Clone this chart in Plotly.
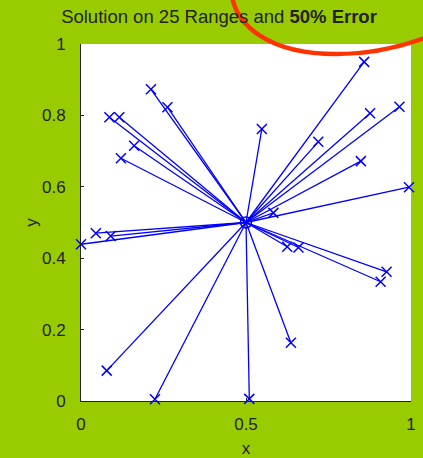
import plotly.graph_objects as go

center_x = 0.5
center_y = 0.5
est_x = [0.858, 0.876, 0.965, 0.719, 0.548, 0.848, 0.994, 0.583,
         0.212, 0.262, 0.086, 0.116, 0.161, 0.121,
         0.045, 0.090, 0.000, 0.078, 0.224,
         0.625, 0.659, 0.926, 0.908, 0.636, 0.510]
est_y = [0.950, 0.806, 0.824, 0.726, 0.762, 0.672, 0.599, 0.527,
         0.873, 0.823, 0.795, 0.795, 0.715, 0.680,
         0.470, 0.462, 0.439, 0.085, 0.005,
         0.432, 0.430, 0.362, 0.334, 0.163, 0.006]
x_ticks = [0, 0.5, 1]
y_ticks = [0, 0.2, 0.4, 0.6, 0.8, 1]

BLUE = "#0000FF"
GREEN = "#99CC00"

lx, ly = [], []
for xv, yv in zip(est_x, est_y):
    lx += [center_x, xv, None]
    ly += [center_y, yv, None]

fig = go.Figure()
fig.add_trace(go.Scatter(x=lx, y=ly, mode="lines",
                         line=dict(color=BLUE, width=1.3),
                         hoverinfo="skip", showlegend=False))
fig.add_trace(go.Scatter(x=est_x, y=est_y, mode="markers",
                         marker=dict(symbol="x-thin", size=10,
                                     line=dict(color=BLUE, width=1.5)),
                         cliponaxis=False, showlegend=False))
fig.add_trace(go.Scatter(x=[center_x], y=[center_y], mode="markers",
                         marker=dict(symbol="circle-open", size=11, color=BLUE,
                                     line=dict(color=BLUE, width=1.5)),
                         cliponaxis=False, showlegend=False))

W, H = 423, 458
L, R, T, B = 81, 12, 44, 57
pw, ph = W - L - R, H - T - B

def px(x):
    return (x - L) / pw

def py(y):
    return (H - B - y) / ph

pts = [(231, -15), (231, 28), (273, 54), (336, 54), (370, 54), (405, 46), (435, 34)]
p = [(px(a), py(b)) for a, b in pts]
path = (f"M {p[0][0]},{p[0][1]} C {p[1][0]},{p[1][1]} {p[2][0]},{p[2][1]} {p[3][0]},{p[3][1]} "
        f"C {p[4][0]},{p[4][1]} {p[5][0]},{p[5][1]} {p[6][0]},{p[6][1]}")
fig.add_shape(type="path", path=path, xref="paper", yref="paper",
              line=dict(color="#FF3300", width=4.5), layer="above")

FONT = "Liberation Sans, Arial"
axis_common = dict(showgrid=False, zeroline=False, showline=True,
                   linecolor="#222222", linewidth=1, ticks="inside",
                   ticklen=3, tickcolor="#222222", mirror=False,
                   tickfont=dict(family=FONT, size=17, color="#222222"))

fig.update_xaxes(range=[0, 1], tickvals=x_ticks, ticktext=["0", "0.5", "1"],
                 ticklabelstandoff=8,
                 title=dict(text="x", font=dict(family=FONT, size=17, color="#222222"), standoff=8),
                 **axis_common)
fig.update_yaxes(range=[0, 1], tickvals=y_ticks, ticktext=["0", "0.2", "0.4", "0.6", "0.8", "1"],
                 ticklabelstandoff=11,
                 title=dict(text="y", font=dict(family=FONT, size=17, color="#222222"), standoff=0),
                 **axis_common)

fig.update_layout(
    width=W, height=H,
    margin=dict(l=L, r=R, t=T, b=B, autoexpand=False),
    paper_bgcolor=GREEN, plot_bgcolor="white",
    title=dict(text="Solution on 25 Ranges and <b>50% Error</b>",
               font=dict(family=FONT, size=18.5, color="#222222"),
               x=219 / W, xanchor="center", xref="container",
               y=1 - 17 / H, yanchor="middle", yref="container"),
    showlegend=False,
)

fig.write_html("out.html", config={"displayModeBar": False},
               post_script="document.body.style.margin='0';document.body.style.overflow='hidden';")
